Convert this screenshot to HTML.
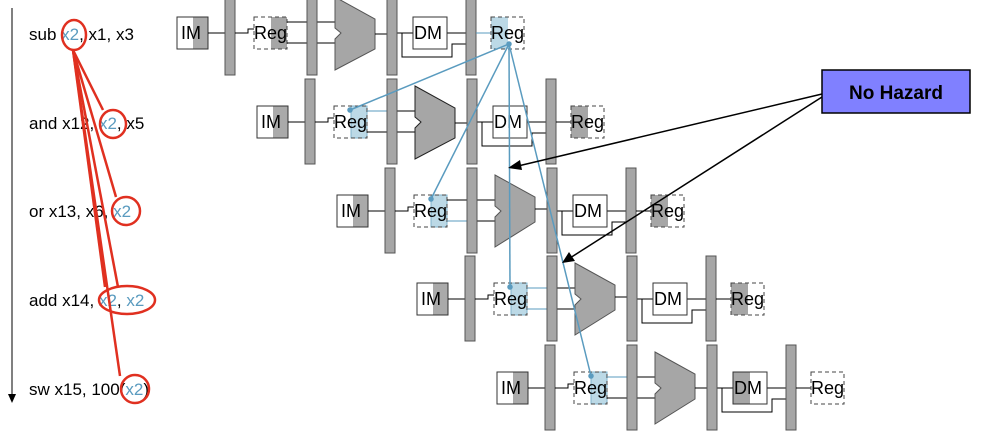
<!DOCTYPE html>
<html><head><meta charset="utf-8"><style>
body{margin:0;background:#fff;width:1000px;height:442px;overflow:hidden}
svg{display:block;font-family:"Liberation Sans",sans-serif}
</style></head><body>
<svg width="1000" height="442" viewBox="0 0 1000 442">
<line x1="12" y1="8" x2="12" y2="396" stroke="#000" stroke-width="1"/>
<polygon points="8,394 16,394 12,403" fill="#000"/>
<g font-size="17" fill="#000">
<text x="29" y="40">sub <tspan fill="#5a9bbf">x2</tspan>, x1, x3</text>
<text x="29" y="129">and x12, <tspan fill="#5a9bbf">x2</tspan>, x5</text>
<text x="29" y="217">or x13, x6, <tspan fill="#5a9bbf">x2</tspan></text>
<text x="29" y="306">add x14, <tspan fill="#5a9bbf">x2</tspan>, <tspan fill="#5a9bbf">x2</tspan></text>
<text x="29" y="395">sw x15, 100(<tspan fill="#5a9bbf">x2</tspan>)</text>
</g>
<g stroke="#e03020" stroke-width="2.5" fill="none">
<ellipse cx="74" cy="35" rx="12" ry="15"/>
<ellipse cx="113" cy="124" rx="13" ry="14"/>
<ellipse cx="126" cy="211" rx="14" ry="14"/>
<ellipse cx="127" cy="300" rx="28" ry="14"/>
<ellipse cx="135" cy="389" rx="14" ry="14"/>
<line x1="73" y1="50" x2="103" y2="110"/>
<line x1="73" y1="50" x2="116" y2="197"/>
<line x1="73" y1="50" x2="105" y2="287"/>
<line x1="73" y1="50" x2="118" y2="287"/>
<line x1="73" y1="50" x2="120" y2="376"/>
</g>

<g transform="translate(177,33)" font-size="18">
<rect x="0" y="-16" width="31" height="32" fill="#fff"/><rect x="16" y="-16" width="15" height="32" fill="#aaa"/><rect x="0" y="-16" width="31" height="32" fill="none" stroke="#333"/><text x="4" y="6">IM</text>
<line x1="31" y1="0" x2="48" y2="0" stroke="#000"/>
<rect x="48" y="-43" width="10" height="85" fill="#a6a6a6" stroke="#555"/>
<path d="M58 0H71V-4H77" stroke="#000" fill="none"/>
<rect x="94" y="-16" width="16" height="32" fill="#a6a6a6"/>
<rect x="77" y="-16" width="33" height="32" fill="none" stroke="#444" stroke-dasharray="4,3"/><text x="77" y="6">Reg</text>
<path d="M110 -11H130M110 10H130M140 -11H158M140 10H158" stroke="#000"/>
<rect x="130" y="-43" width="10" height="85" fill="#a6a6a6" stroke="#555"/>
<polygon points="158,-36 198,-14 198,16 158,37 158,6 164,0 158,-5" fill="#a6a6a6" stroke="#555"/>
<path d="M198 1H210M220 0H236M225 0V24H275V11H289M270 0H289" stroke="#000" fill="none"/>
<rect x="210" y="-43" width="10" height="85" fill="#a6a6a6" stroke="#555"/>
<rect x="236" y="-16" width="34" height="32" fill="#fff" stroke="#333"/><text x="237" y="6">DM</text>
<rect x="289" y="-43" width="10" height="85" fill="#a6a6a6" stroke="#555"/>
<line x1="299" y1="0" x2="314" y2="0" stroke="#5a9bbf"/>
<rect x="314" y="-16" width="17" height="32" fill="#bcd9e6"/>
<rect x="314" y="-16" width="33" height="32" fill="none" stroke="#444" stroke-dasharray="4,3"/><text x="314" y="6">Reg</text>
</g>
<g transform="translate(257,122)" font-size="18">
<rect x="0" y="-16" width="31" height="32" fill="#fff"/><rect x="16" y="-16" width="15" height="32" fill="#aaa"/><rect x="0" y="-16" width="31" height="32" fill="none" stroke="#333"/><text x="4" y="6">IM</text>
<line x1="31" y1="0" x2="48" y2="0" stroke="#000"/>
<rect x="48" y="-43" width="10" height="85" fill="#a6a6a6" stroke="#555"/>
<path d="M58 0H71V-4H77" stroke="#000" fill="none"/>
<rect x="94" y="-16" width="16" height="32" fill="#bcd9e6" stroke="#7fb3cc"/>
<rect x="77" y="-16" width="33" height="32" fill="none" stroke="#444" stroke-dasharray="4,3"/><text x="77" y="6">Reg</text>
<path d="M110 -11H130" stroke="#5a9bbf"/><path d="M110 10H130M140 -11H158M140 10H158" stroke="#000"/>
<rect x="130" y="-43" width="10" height="85" fill="#a6a6a6" stroke="#555"/>
<polygon points="158,-36 198,-14 198,16 158,37 158,6 164,0 158,-5" fill="#a6a6a6" stroke="#222"/>
<path d="M198 1H210M220 0H236M225 0V24H275V11H289M270 0H289" stroke="#000" fill="none"/>
<rect x="210" y="-43" width="10" height="85" fill="#a6a6a6" stroke="#555"/>
<rect x="236" y="-16" width="34" height="32" fill="#fff" stroke="#333"/><text x="237" y="6">DM</text>
<rect x="289" y="-43" width="10" height="85" fill="#a6a6a6" stroke="#555"/>
<line x1="299" y1="0" x2="314" y2="0" stroke="#000"/>
<rect x="314" y="-16" width="17" height="32" fill="#a6a6a6"/>
<rect x="314" y="-16" width="33" height="32" fill="none" stroke="#444" stroke-dasharray="4,3"/><text x="314" y="6">Reg</text>
</g>
<g transform="translate(337,211)" font-size="18">
<rect x="0" y="-16" width="31" height="32" fill="#fff"/><rect x="16" y="-16" width="15" height="32" fill="#aaa"/><rect x="0" y="-16" width="31" height="32" fill="none" stroke="#333"/><text x="4" y="6">IM</text>
<line x1="31" y1="0" x2="48" y2="0" stroke="#000"/>
<rect x="48" y="-43" width="10" height="85" fill="#a6a6a6" stroke="#555"/>
<path d="M58 0H71V-4H77" stroke="#000" fill="none"/>
<rect x="94" y="-16" width="16" height="32" fill="#bcd9e6" stroke="#7fb3cc"/>
<rect x="77" y="-16" width="33" height="32" fill="none" stroke="#444" stroke-dasharray="4,3"/><text x="77" y="6">Reg</text>
<path d="M110 10H130" stroke="#5a9bbf"/><path d="M110 -11H130M140 -11H158M140 10H158" stroke="#000"/>
<rect x="130" y="-43" width="10" height="85" fill="#a6a6a6" stroke="#555"/>
<polygon points="158,-36 198,-14 198,11 158,36 158,6 164,0 158,-5" fill="#a6a6a6" stroke="#555"/>
<path d="M198 -2H210M220 0H236M225 0V24H275V11H289M270 0H289" stroke="#000" fill="none"/>
<rect x="210" y="-43" width="10" height="85" fill="#a6a6a6" stroke="#555"/>
<rect x="236" y="-16" width="34" height="32" fill="#fff" stroke="#333"/><text x="237" y="6">DM</text>
<rect x="289" y="-43" width="10" height="85" fill="#a6a6a6" stroke="#555"/>
<line x1="299" y1="0" x2="314" y2="0" stroke="#000"/>
<rect x="314" y="-16" width="17" height="32" fill="#a6a6a6"/>
<rect x="314" y="-16" width="33" height="32" fill="none" stroke="#444" stroke-dasharray="4,3"/><text x="314" y="6">Reg</text>
</g>
<g transform="translate(417,299)" font-size="18">
<rect x="0" y="-16" width="31" height="32" fill="#fff"/><rect x="16" y="-16" width="15" height="32" fill="#aaa"/><rect x="0" y="-16" width="31" height="32" fill="none" stroke="#333"/><text x="4" y="6">IM</text>
<line x1="31" y1="0" x2="48" y2="0" stroke="#000"/>
<rect x="48" y="-43" width="10" height="85" fill="#a6a6a6" stroke="#555"/>
<path d="M58 0H71V-4H77" stroke="#000" fill="none"/>
<rect x="94" y="-16" width="16" height="32" fill="#bcd9e6" stroke="#7fb3cc"/>
<rect x="77" y="-16" width="33" height="32" fill="none" stroke="#444" stroke-dasharray="4,3"/><text x="77" y="6">Reg</text>
<path d="M110 -11H130M110 10H130" stroke="#5a9bbf"/><path d="M140 -11H158M140 10H158" stroke="#000"/>
<rect x="130" y="-43" width="10" height="85" fill="#a6a6a6" stroke="#555"/>
<polygon points="158,-36 198,-14 198,11 158,36 158,6 164,0 158,-5" fill="#a6a6a6" stroke="#555"/>
<path d="M198 -2H210M220 0H236M225 0V24H275V11H289M270 0H289" stroke="#000" fill="none"/>
<rect x="210" y="-43" width="10" height="85" fill="#a6a6a6" stroke="#555"/>
<rect x="236" y="-16" width="34" height="32" fill="#fff" stroke="#333"/><text x="237" y="6">DM</text>
<rect x="289" y="-43" width="10" height="85" fill="#a6a6a6" stroke="#555"/>
<line x1="299" y1="0" x2="314" y2="0" stroke="#000"/>
<rect x="314" y="-16" width="17" height="32" fill="#a6a6a6"/>
<rect x="314" y="-16" width="33" height="32" fill="none" stroke="#444" stroke-dasharray="4,3"/><text x="314" y="6">Reg</text>
</g>
<g transform="translate(497,388)" font-size="18">
<rect x="0" y="-16" width="31" height="32" fill="#fff"/><rect x="16" y="-16" width="15" height="32" fill="#aaa"/><rect x="0" y="-16" width="31" height="32" fill="none" stroke="#333"/><text x="4" y="6">IM</text>
<line x1="31" y1="0" x2="48" y2="0" stroke="#000"/>
<rect x="48" y="-43" width="10" height="85" fill="#a6a6a6" stroke="#555"/>
<path d="M58 0H71V-4H77" stroke="#000" fill="none"/>
<rect x="94" y="-16" width="16" height="32" fill="#bcd9e6" stroke="#7fb3cc"/>
<rect x="77" y="-16" width="33" height="32" fill="none" stroke="#444" stroke-dasharray="4,3"/><text x="77" y="6">Reg</text>
<path d="M110 -11H130" stroke="#5a9bbf"/><path d="M110 10H130M140 -11H158M140 10H158" stroke="#000"/>
<rect x="130" y="-43" width="10" height="85" fill="#a6a6a6" stroke="#555"/>
<polygon points="158,-36 198,-14 198,11 158,36 158,6 164,0 158,-5" fill="#a6a6a6" stroke="#555"/>
<path d="M198 0H210M220 0H236M225 0V24H275V11H289M270 0H289" stroke="#000" fill="none"/>
<rect x="210" y="-43" width="10" height="85" fill="#a6a6a6" stroke="#555"/>
<rect x="236" y="-16" width="34" height="32" fill="#fff"/><rect x="236" y="-16" width="17" height="32" fill="#a6a6a6"/><rect x="236" y="-16" width="34" height="32" fill="none" stroke="#333"/><text x="237" y="6">DM</text>
<rect x="289" y="-43" width="10" height="85" fill="#a6a6a6" stroke="#555"/>
<line x1="299" y1="0" x2="314" y2="0" stroke="#000"/>
<rect x="314" y="-16" width="33" height="32" fill="none" stroke="#444" stroke-dasharray="4,3"/><text x="314" y="6">Reg</text>
</g>

<g stroke="#5a9bbf" stroke-width="1.5" fill="#5a9bbf">
<line x1="509" y1="44" x2="350" y2="110"/>
<line x1="509" y1="44" x2="431" y2="199"/>
<line x1="509" y1="44" x2="510" y2="287"/>
<line x1="509" y1="44" x2="591" y2="376"/>
<circle cx="509" cy="44" r="2"/><circle cx="350" cy="110" r="2"/><circle cx="431" cy="199" r="2"/><circle cx="510" cy="287" r="2"/><circle cx="591" cy="376" r="2"/>
</g>

<rect x="822" y="70" width="148" height="43" fill="#8080ff" stroke="#000" stroke-width="1.5"/>
<text x="896" y="99" font-size="19" font-weight="bold" text-anchor="middle">No Hazard</text>
<g stroke="#000" stroke-width="1.5">
<line x1="822" y1="94" x2="518" y2="166"/>
<line x1="822" y1="97" x2="570" y2="258"/>
</g>
<polygon points="508,168 520,160 522,170" fill="#000"/>
<polygon points="562,263 569,252 575,261" fill="#000"/>
</svg>
</body></html>
